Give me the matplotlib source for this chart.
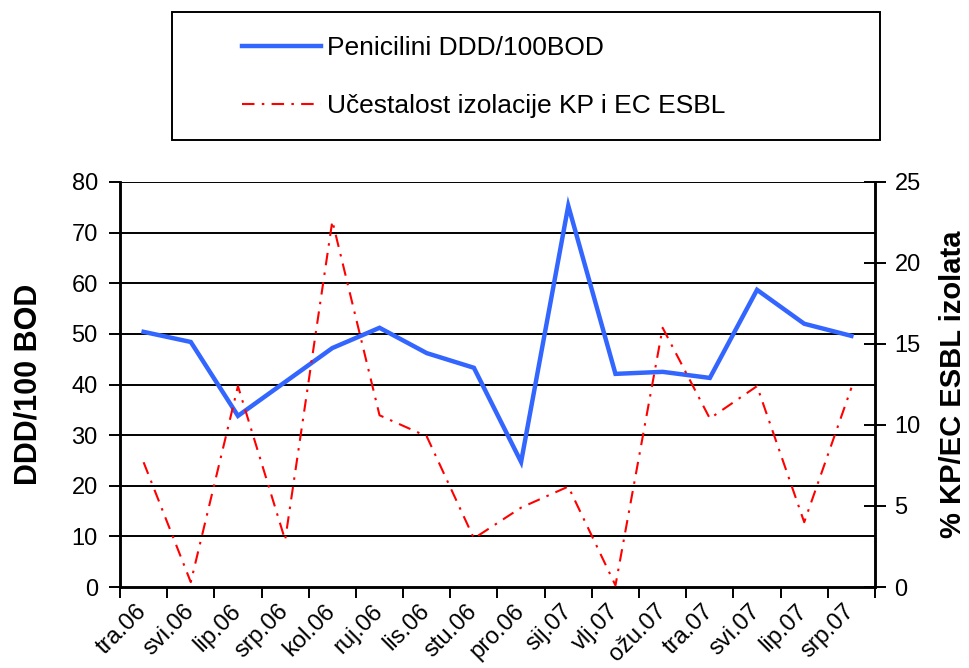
import matplotlib
matplotlib.use("Agg")
import matplotlib.pyplot as plt
from matplotlib.patches import Rectangle

plt.rcParams['font.family'] = ['Liberation Sans', 'DejaVu Sans']

months = ['tra.06', 'svi.06', 'lip.06', 'srp.06', 'kol.06', 'ruj.06', 'lis.06', 'stu.06',
          'pro.06', 'sij.07', 'vlj.07', 'ožu.07', 'tra.07', 'svi.07', 'lip.07', 'srp.07']
penicilini = [50.4, 48.4, 33.8, 40.5, 47.2, 51.2, 46.2, 43.3,
              24.7, 75.3, 42.1, 42.5, 41.3, 58.7, 52.0, 49.6]
esbl = [7.7, 0.3, 12.4, 2.9, 22.6, 10.6, 9.3, 3.0,
        4.9, 6.2, 0.1, 16.0, 10.4, 12.4, 4.0, 12.3]

fig = plt.figure(figsize=(9.7, 6.68), dpi=100)
ax = fig.add_axes([120/970, 1-587/668, 755/970, 405/668])
ax2 = ax.twinx()

x = range(len(months))
l1, = ax.plot(x, penicilini, color='#3366ff', lw=3.2, solid_joinstyle='miter', zorder=3)
l2, = ax2.plot(x, esbl, color='#ff0000', lw=1.5, linestyle=(0, (6, 3.5, 1.2, 3.5)), zorder=3)

ax.set_xlim(-0.5, len(months) - 0.5)
ax.set_ylim(0, 80)
ax.set_yticks(range(0, 81, 10))
ax2.set_ylim(0, 25)
ax2.set_yticks(range(0, 26, 5))

for y in range(10, 81, 10):
    ax.axhline(y, color='black', lw=1.4, zorder=1)

# major ticks on category borders, labels on minor ticks at the centres
ax.set_xticks([i - 0.5 for i in range(len(months) + 1)])
ax.set_xticklabels([])
ax.set_xticks(list(x), minor=True)
ax.set_xticklabels(months, minor=True, rotation=45, ha='right', va='center',
                   rotation_mode='anchor', fontsize=17)
ax.tick_params(axis='x', which='major', direction='out', length=8, width=1.4)
ax.tick_params(axis='x', which='minor', length=0, pad=15)
ax.tick_params(axis='y', direction='out', length=8, width=1.4, labelsize=17, pad=8)
ax2.tick_params(axis='y', direction='inout', length=16, width=1.4, labelsize=17, pad=6)

for a in (ax, ax2):
    a.spines['top'].set_visible(False)
    for s in ('left', 'right', 'bottom'):
        a.spines[s].set_linewidth(1.8)

ax.set_ylabel('DDD/100 BOD', fontsize=22, fontweight='bold', labelpad=20)
ax2.set_ylabel('% KP/EC ESBL izolata', fontsize=21, fontweight='bold', labelpad=13)

fig.patches.append(Rectangle((172/970, 1-140/668), 708/970, 128/668, transform=fig.transFigure,
                             fill=False, edgecolor='black', lw=1.4))
fig.legend([l1, l2], ['Penicilini DDD/100BOD', 'Učestalost izolacije KP i EC ESBL'],
           loc='upper left', bbox_to_anchor=(242/970, 1-36/668), frameon=False,
           fontsize=19, handlelength=3.0, handletextpad=0.22, labelspacing=1.3,
           borderaxespad=0, borderpad=0)

fig.savefig('out.png', dpi=100)
